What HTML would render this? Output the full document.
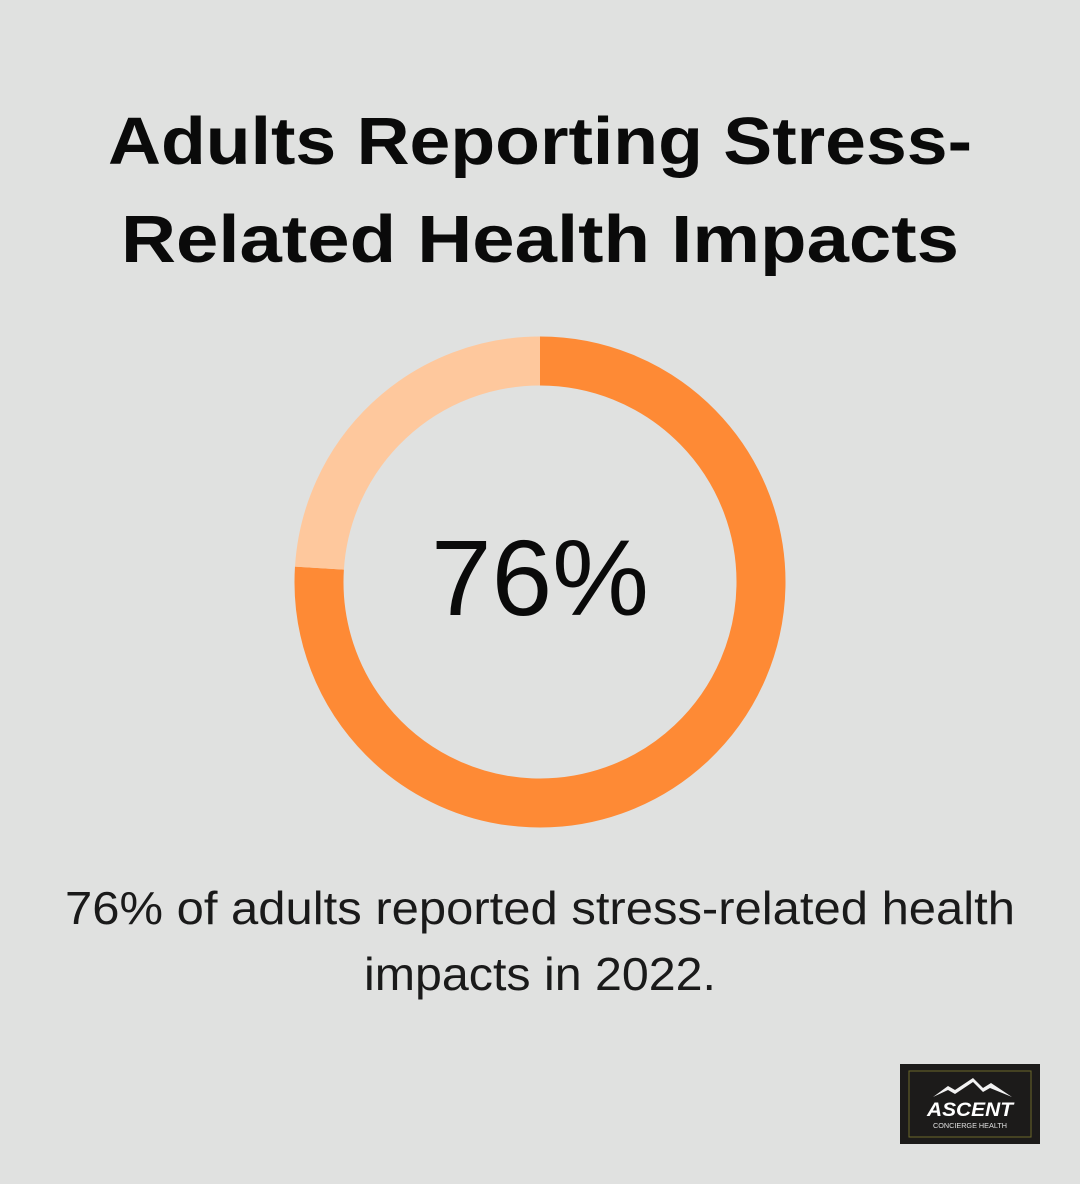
<!DOCTYPE html>
<html><head><meta charset="utf-8"><style>
html,body{margin:0;padding:0;background:#e0e1e0;}
svg{display:block;}
text{font-family:"Liberation Sans","DejaVu Sans",sans-serif;}
</style></head><body>
<svg width="1080" height="1184" viewBox="0 0 1080 1184">
<rect width="1080" height="1184" fill="#e0e1e0"/>
<text x="540" y="164" text-anchor="middle" font-size="67" font-weight="bold" fill="#0a0a0a" textLength="864" lengthAdjust="spacingAndGlyphs">Adults Reporting Stress-</text>
<text x="540" y="262" text-anchor="middle" font-size="67" font-weight="bold" fill="#0a0a0a" textLength="838" lengthAdjust="spacingAndGlyphs">Related Health Impacts</text>
<g id="donut"></g>
<text x="540" y="615" text-anchor="middle" font-size="108" fill="#0a0a0a" textLength="218" lengthAdjust="spacingAndGlyphs">76%</text>
<text x="540" y="924" text-anchor="middle" font-size="46" fill="#1a1a1a" textLength="950" lengthAdjust="spacingAndGlyphs">76% of adults reported stress-related health</text>
<text x="540" y="990" text-anchor="middle" font-size="46" fill="#1a1a1a" textLength="352" lengthAdjust="spacingAndGlyphs">impacts in 2022.</text>
<g>
<rect x="900" y="1064" width="140" height="80" fill="#1c1b1a"/>
<rect x="909" y="1071" width="122" height="66" fill="none" stroke="#6b6a2a" stroke-width="1"/>
<path d="M933 1097 L948 1086 L955 1090 L973 1078 L983 1088 L991 1083 L1012 1097 L990 1088 L983 1092 L973 1082 L955 1094 L948 1090 Z" fill="#f2f2f2"/>
<text x="970" y="1116" text-anchor="middle" font-size="19" font-weight="bold" font-style="italic" fill="#ffffff" textLength="86" lengthAdjust="spacingAndGlyphs">ASCENT</text>
<text x="970" y="1128" text-anchor="middle" font-size="7" fill="#e0e0e0" textLength="74" lengthAdjust="spacingAndGlyphs">CONCIERGE HEALTH</text>
</g>
</svg>
<script>
const categories = ["Reported impacts", "Others"];
const values = [76, 24];
const colors = ["#fe8a35", "#fec89d"];
const g = document.getElementById('donut');
const cx = 540, cy = 582, r = 221, sw = 49;
const total = values.reduce((a,b)=>a+b,0);
let start = 0;
values.forEach((v,i)=>{
  const a0 = start/total*2*Math.PI, a1 = (start+v)/total*2*Math.PI;
  start += v;
  const x0 = cx + r*Math.sin(a0), y0 = cy - r*Math.cos(a0);
  const x1 = cx + r*Math.sin(a1), y1 = cy - r*Math.cos(a1);
  const large = (a1-a0) > Math.PI ? 1 : 0;
  const p = document.createElementNS('http://www.w3.org/2000/svg','path');
  p.setAttribute('d', `M${x0} ${y0} A${r} ${r} 0 ${large} 1 ${x1} ${y1}`);
  p.setAttribute('fill','none');
  p.setAttribute('stroke', colors[i]);
  p.setAttribute('stroke-width', sw);
  
  
  g.appendChild(p);
});
</script>
</body></html>
